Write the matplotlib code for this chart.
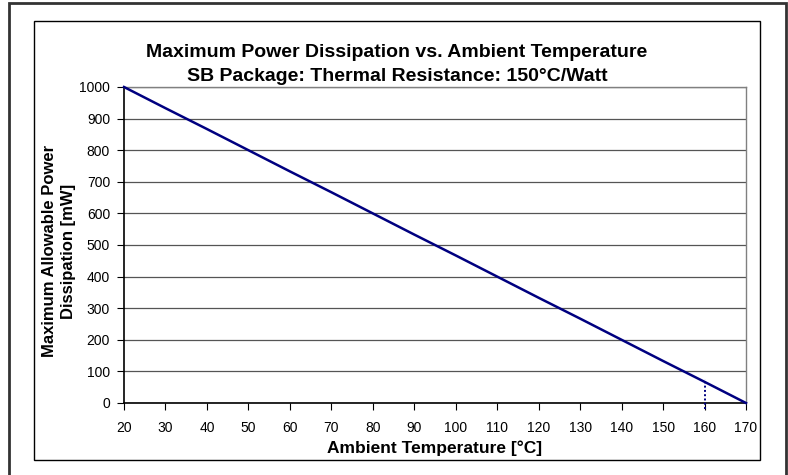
import matplotlib
matplotlib.use("Agg")
import matplotlib.pyplot as plt
from matplotlib.patches import Rectangle

plt.rcParams['font.family'] = ['Liberation Sans', 'DejaVu Sans']

# Data
temperature_c = [20, 30, 40, 50, 60, 70, 80, 90, 100, 110, 120, 130, 140, 150, 160, 170]
power_mw = [1000, 933, 867, 800, 733, 667, 600, 533, 467, 400, 333, 267, 200, 133, 67, 0]
marker_temp = [160, 160]
marker_power = [-20, 75]
x_ticks = [20, 30, 40, 50, 60, 70, 80, 90, 100, 110, 120, 130, 140, 150, 160, 170]
y_ticks = [0, 100, 200, 300, 400, 500, 600, 700, 800, 900, 1000]

title = "Maximum Power Dissipation vs. Ambient Temperature\nSB Package: Thermal Resistance: 150°C/Watt"
xlabel = "Ambient Temperature [°C]"
ylabel = "Maximum Allowable Power\nDissipation [mW]"

W, H = 788, 475
fig = plt.figure(figsize=(W / 100, H / 100), dpi=100)

def fx(px):
    return px / W

def fy(py):
    return 1 - py / H

# Outer border
fig.patches.append(Rectangle((fx(9), fy(476)), fx(786 - 9), (476 - 3) / H,
                             transform=fig.transFigure, fill=False,
                             edgecolor='#333333', linewidth=2.0))
# Inner chart frame
fig.patches.append(Rectangle((fx(34), fy(460)), fx(760 - 34), (460 - 21) / H,
                             transform=fig.transFigure, fill=False,
                             edgecolor='black', linewidth=1.0))

L, R, T, B = 124, 746, 87, 403
ax = fig.add_axes([fx(L), fy(B), fx(R - L), (B - T) / H])
ax.set_xlim(20, 170)
ax.set_ylim(0, 1000)
ax.set_xticks(x_ticks)
ax.set_yticks(y_ticks)
ax.yaxis.grid(True, color='#555555', linewidth=0.9)
ax.set_axisbelow(True)

for side in ['top', 'right']:
    ax.spines[side].set_color('#808080')
    ax.spines[side].set_linewidth(1.0)
for side in ['left', 'bottom']:
    ax.spines[side].set_color('black')
    ax.spines[side].set_linewidth(1.2)

ax.tick_params(axis='both', direction='out', length=5, width=0.8,
               labelsize=10, colors='black')
ax.tick_params(axis='y', pad=5)
ax.tick_params(axis='x', pad=8)

ax.plot(temperature_c, power_mw, color='#000080', linewidth=1.8, clip_on=False, zorder=3)
ax.plot(marker_temp, marker_power, color='#000080', linewidth=1.4,
        linestyle=(0, (1, 1.2)), clip_on=False, zorder=3)

ax.set_xlabel(xlabel, fontsize=12.5, fontweight='bold', labelpad=4)

fig.text(fx(59), fy(251), ylabel, rotation=90, ha='center', va='center',
         fontsize=12, fontweight='bold', linespacing=1.3, multialignment='center')

fig.text(fx(397), fy(64.5), title, ha='center', va='center', fontsize=14,
         fontweight='bold', linespacing=1.5)

fig.savefig("out.png", dpi=100)
